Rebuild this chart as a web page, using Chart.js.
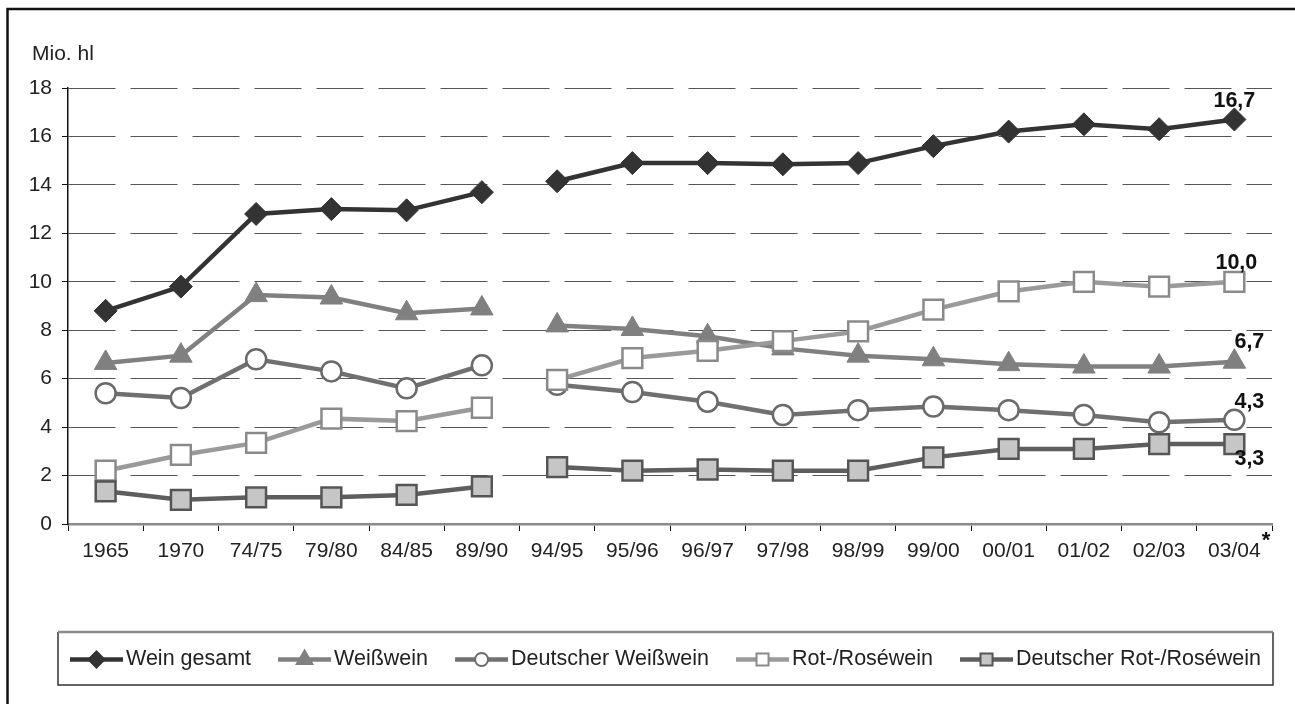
<!DOCTYPE html>
<html>
<head>
<meta charset="utf-8">
<script src="https://cdn.jsdelivr.net/npm/chart.js@4.4.1/dist/chart.umd.min.js"></script>
<style>
    html, body { margin: 0; padding: 0; background: #fff; }
    #wrap { width: 1295px; height: 704px; position: relative; }
</style>
</head>
<body>
<div id="wrap"><canvas id="wineChart"></canvas></div>
<script>
const categories = ['1965', '1970', '74/75', '79/80', '84/85', '89/90', '94/95', '95/96', '96/97', '97/98', '98/99', '99/00', '00/01', '01/02', '02/03', '03/04'];
const weinGesamt = [8.8, 9.8, 12.8, 13.0, 12.95, 13.7, 14.15, 14.9, 14.9, 14.85, 14.9, 15.6, 16.2, 16.5, 16.3, 16.7];
const weisswein = [6.65, 6.95, 9.45, 9.35, 8.7, 8.9, 8.2, 8.05, 7.75, 7.25, 6.95, 6.8, 6.6, 6.5, 6.5, 6.7];
const deutscherWeisswein = [5.4, 5.2, 6.8, 6.3, 5.6, 6.55, 5.75, 5.45, 5.05, 4.5, 4.7, 4.85, 4.7, 4.5, 4.2, 4.3];
const rotRosewein = [2.2, 2.85, 3.35, 4.35, 4.25, 4.8, 5.95, 6.85, 7.15, 7.55, 7.95, 8.85, 9.6, 10.0, 9.8, 10.0];
const deutscherRotRosewein = [1.35, 1.0, 1.1, 1.1, 1.2, 1.55, 2.35, 2.2, 2.25, 2.2, 2.2, 2.75, 3.1, 3.1, 3.3, 3.3];
const yTicks = [0, 2, 4, 6, 8, 10, 12, 14, 16, 18];
const breakAfter = '89/90'; // line is interrupted between 89/90 and 94/95
const unitLabel = 'Mio. hl';
const footnoteMark = '*';

const FONT = '"Liberation Sans", Arial, sans-serif';
const breakIndex = categories.indexOf(breakAfter);

// styles per series; marker sizes in px
const series = [
    { label: 'Wein gesamt', data: weinGesamt, line: '#333333', fill: '#333333', border: '#333333', style: 'rectRot', r: 11.5, lr: 8, order: 4, end: { dx: 0, dy: -18, align: 'center' } },
    { label: 'Weißwein', data: weisswein, line: '#808080', fill: '#808080', border: '#808080', style: 'triangle', r: 13, lr: 9, order: 3, end: { dx: 15, dy: -20, align: 'center' } },
    { label: 'Deutscher Weißwein', data: deutscherWeisswein, line: '#707070', fill: '#ffffff', border: '#6a6a6a', style: 'circle', r: 10, lr: 6.5, order: 2, end: { dx: 15, dy: -18, align: 'center' } },
    { label: 'Rot-/Roséwein', data: rotRosewein, line: '#9a9a9a', fill: '#ffffff', border: '#8a8a8a', style: 'rect', r: 14, lr: 8.5, order: 1, end: { dx: 2, dy: -19, align: 'center' } },
    { label: 'Deutscher Rot-/Roséwein', data: deutscherRotRosewein, line: '#5e5e5e', fill: '#c6c6c6', border: '#555555', style: 'rect', r: 14, lr: 8.5, order: 0, end: { dx: 15, dy: 15, align: 'center' } },
];

const fmt = v => v.toFixed(1).replace('.', ',');

function drawMarker(ctx, style, x, y, r, fill, stroke, lw) {
    ctx.save();
    ctx.beginPath();
    if (style === 'rectRot') {
        ctx.moveTo(x, y - r); ctx.lineTo(x + r, y); ctx.lineTo(x, y + r); ctx.lineTo(x - r, y);
    } else if (style === 'triangle') {
        const h = r * 1.5, w = r * Math.sqrt(3) / 2;
        ctx.moveTo(x, y - r); ctx.lineTo(x + w, y + h - r); ctx.lineTo(x - w, y + h - r);
    } else if (style === 'circle') {
        ctx.arc(x, y, r, 0, Math.PI * 2);
    } else {
        const s = r * Math.SQRT1_2;
        ctx.rect(x - s, y - s, 2 * s, 2 * s);
    }
    ctx.closePath();
    ctx.fillStyle = fill;
    ctx.fill();
    ctx.lineWidth = lw;
    ctx.strokeStyle = stroke;
    ctx.stroke();
    ctx.restore();
}

const frame = {
    id: 'frame',
    beforeDraw(chart) {
        const ctx = chart.ctx;
        ctx.save();
        ctx.fillStyle = '#fff';
        ctx.fillRect(0, 0, chart.width, chart.height);
        ctx.strokeStyle = '#111';
        ctx.lineWidth = 2.5;
        ctx.strokeRect(7.5, 9, chart.width + 10, chart.height + 10);
        ctx.restore();
    },
    afterDraw(chart) {
        const ctx = chart.ctx;
        const x = chart.scales.x;
        ctx.save();
        // unit label
        ctx.font = '21px ' + FONT;
        ctx.fillStyle = '#222';
        ctx.textBaseline = 'alphabetic';
        ctx.fillText(unitLabel, 32, 60);

        // footnote mark on the last category
        const last = categories.length - 1;
        const w = ctx.measureText(categories[last]).width;
        ctx.font = 'bold 22px ' + FONT;
        ctx.textAlign = 'left';
        ctx.textBaseline = 'top';
        ctx.fillStyle = '#111';
        ctx.fillText(footnoteMark, x.getPixelForTick(last) + w / 2 + 1, 530);

        // end values
        ctx.font = 'bold 21.5px ' + FONT;
        ctx.textBaseline = 'middle';
        series.forEach((s, i) => {
            const pts = chart.getDatasetMeta(i).data;
            const p = pts[pts.length - 1];
            ctx.textAlign = s.end.align;
            ctx.fillText(fmt(s.data[s.data.length - 1]), p.x + s.end.dx, p.y + s.end.dy);
        });

        // legend
        const top = 632, bottom = 685, left = 58, right = 1273;
        ctx.strokeStyle = '#333';
        ctx.lineWidth = 1.5;
        ctx.beginPath();
        ctx.moveTo(left, top); ctx.lineTo(left, bottom); ctx.lineTo(right, bottom); ctx.lineTo(right, top);
        ctx.stroke();
        ctx.strokeStyle = '#8a8a8a';
        ctx.lineWidth = 2.5;
        ctx.beginPath();
        ctx.moveTo(left, top); ctx.lineTo(right, top);
        ctx.stroke();

        const ly = (top + bottom) / 2 + 1;
        let lx = 70;
        ctx.font = '21.5px ' + FONT;
        ctx.textAlign = 'left';
        ctx.textBaseline = 'middle';
        series.forEach(s => {
            ctx.strokeStyle = s.line;
            ctx.lineWidth = 4.5;
            ctx.beginPath();
            ctx.moveTo(lx, ly); ctx.lineTo(lx + 53, ly);
            ctx.stroke();
            drawMarker(ctx, s.style, lx + 26.5, ly, s.lr, s.fill, s.border, 2);
            ctx.fillStyle = '#222';
            ctx.fillText(s.label, lx + 56, ly);
            lx += 56 + ctx.measureText(s.label).width + 27;
        });
        ctx.restore();
    }
};

new Chart(document.getElementById('wineChart'), {
    type: 'line',
    data: {
        labels: categories,
        datasets: series.map(s => ({
            label: s.label,
            data: s.data,
            order: s.order,
            borderColor: s.line,
            borderWidth: 4.5,
            pointStyle: s.style,
            pointRadius: s.r,
            pointHoverRadius: s.r,
            pointBackgroundColor: s.fill,
            pointBorderColor: s.border,
            pointBorderWidth: s.fill === s.border ? 1 : 2.5,
            tension: 0,
            segment: {
                borderColor: ctx => ctx.p0DataIndex === breakIndex ? 'rgba(0,0,0,0)' : undefined
            }
        }))
    },
    options: {
        responsive: true,
        maintainAspectRatio: false,
        animation: false,
        layout: { padding: { left: 0, top: 88, right: 23, bottom: 0 } },
        plugins: {
            legend: { display: false },
            tooltip: { enabled: false }
        },
        scales: {
            x: {
                offset: true,
                afterFit: s => { s.height = 180; },
                grid: { drawOnChartArea: false, offset: true, color: '#111', tickLength: 7, tickBorderDash: [] },
                border: { color: '#8a8a8a', width: 2.5 },
                ticks: { color: '#222', font: { family: FONT, size: 21 }, padding: 8, maxRotation: 0, autoSkip: false }
            },
            y: {
                min: 0,
                max: 18,
                afterFit: s => { s.width = 68; },
                afterBuildTicks: s => { s.ticks = yTicks.map(v => ({ value: v })); },
                grid: { color: '#555', lineWidth: 1, tickLength: 6, tickColor: '#111', tickBorderDash: [] },
                border: { color: '#111', width: 1.5, dash: [47, 15] },
                ticks: { color: '#222', font: { family: FONT, size: 21 }, padding: 10 }
            }
        }
    },
    plugins: [frame]
});
</script>
</body>
</html>
